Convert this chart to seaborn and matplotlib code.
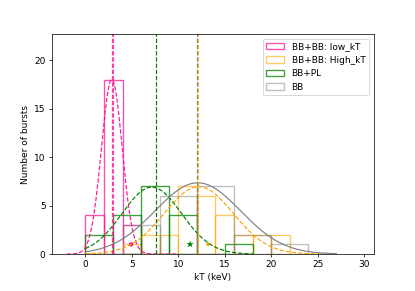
import numpy as np
import matplotlib
matplotlib.use('Agg')
import matplotlib.pyplot as plt
import seaborn as sns

# ── data ────────────────────────────────────────────────────────────────────
labels = ['BB+BB: low_kT', 'BB+BB: High_kT', 'BB+PL', 'BB']
colors = ['deeppink', 'orange', 'green', 'gray']
hist_alpha = [0.75, 0.6, 0.75, 0.5]

low_edges = [0, 2, 4, 6]
low_counts = [4, 18, 3]
high_edges = [4, 6, 8, 10, 12, 14, 16, 18, 20, 22]
high_counts = [1, 2, 2, 7, 6, 4, 2, 2, 2]
pl_edges = [0, 3, 6, 9, 12, 15, 18]
pl_counts = [2, 4, 7, 4, 0, 1]
bb_edges = [4, 8, 12, 16, 20, 24]
bb_counts = [3, 6, 7, 2, 1]

# gaussian fits: (amplitude, centre, sigma, x range)
low_fit = (18.0, 2.85, 1.12, (-2, 10))
high_fit = (6.95, 12.2, 3.7, (0, 26))
pl_fit = (6.9, 7.15, 3.2, (0, 18))
bb_fit = (7.35, 12.1, 4.6, (0, 27))

# mean / median markers
low_vlines = [2.84, 3.0]
pl_vlines = [7.65]
bb_vlines = [12.0]
high_vlines = [12.15]
point_x = [4.92, 13.2, 11.27]
point_y = [1, 1, 1]

# ── plot ──────────────────────────────────────────────────────────────────────
fig, ax = plt.subplots(figsize=(415 / 65, 291 / 65), dpi=65)
fig.subplots_adjust(left=0.125, right=0.9, bottom=0.127, top=0.883)

sets = [(low_edges, low_counts), (high_edges, high_counts),
        (pl_edges, pl_counts), (bb_edges, bb_counts)]
for (edges, counts), lab, col, a in zip(sets, labels, colors, hist_alpha):
    centres = [(edges[i] + edges[i + 1]) / 2 for i in range(len(counts))]
    sns.histplot(x=centres, weights=counts, bins=edges, fill=False,
                 element='bars', color=col, alpha=a, linewidth=1.5,
                 label=lab, ax=ax)

fits = [(low_fit, 'deeppink', '--'), (high_fit, 'orange', '--'),
        (pl_fit, 'green', '--'), (bb_fit, 'gray', '-')]
for (amp, mu, sig, (x0, x1)), col, ls in fits:
    xs = np.linspace(x0, x1, 300)
    ys = amp * np.exp(-(xs - mu) ** 2 / (2 * sig ** 2))
    sns.lineplot(x=xs, y=ys, color=col, linestyle=ls, linewidth=1.3, ax=ax)

for v in low_vlines:
    ax.axvline(v, color='deeppink', linestyle='--', linewidth=1.3, alpha=0.8)
for v in pl_vlines:
    ax.axvline(v, color='green', linestyle='--', linewidth=1.3)
for v in bb_vlines:
    ax.axvline(v, color='gray', linestyle='--', linewidth=1.3)
for v in high_vlines:
    ax.axvline(v, color='orange', linestyle='--', linewidth=1.3, alpha=0.8)

sns.scatterplot(x=point_x[:1], y=point_y[:1], color='deeppink', marker='o',
                s=24, edgecolor='none', ax=ax)
sns.scatterplot(x=point_x[1:2], y=point_y[1:2], color='orange', marker='o',
                s=16, edgecolor='none', ax=ax)
sns.scatterplot(x=point_x[2:], y=point_y[2:], color='green', marker='*',
                s=70, edgecolor='none', ax=ax)

ax.set_xlim(-3.6, 31.0)
ax.set_ylim(0, 22.7)
ax.set_xticks([0, 5, 10, 15, 20, 25, 30])
ax.set_yticks([0, 5, 10, 15, 20])
ax.set_xlabel('kT (keV)')
ax.set_ylabel('Number of bursts')
ax.legend(loc='upper right')

plt.savefig('out.png', dpi=65)
plt.close()
